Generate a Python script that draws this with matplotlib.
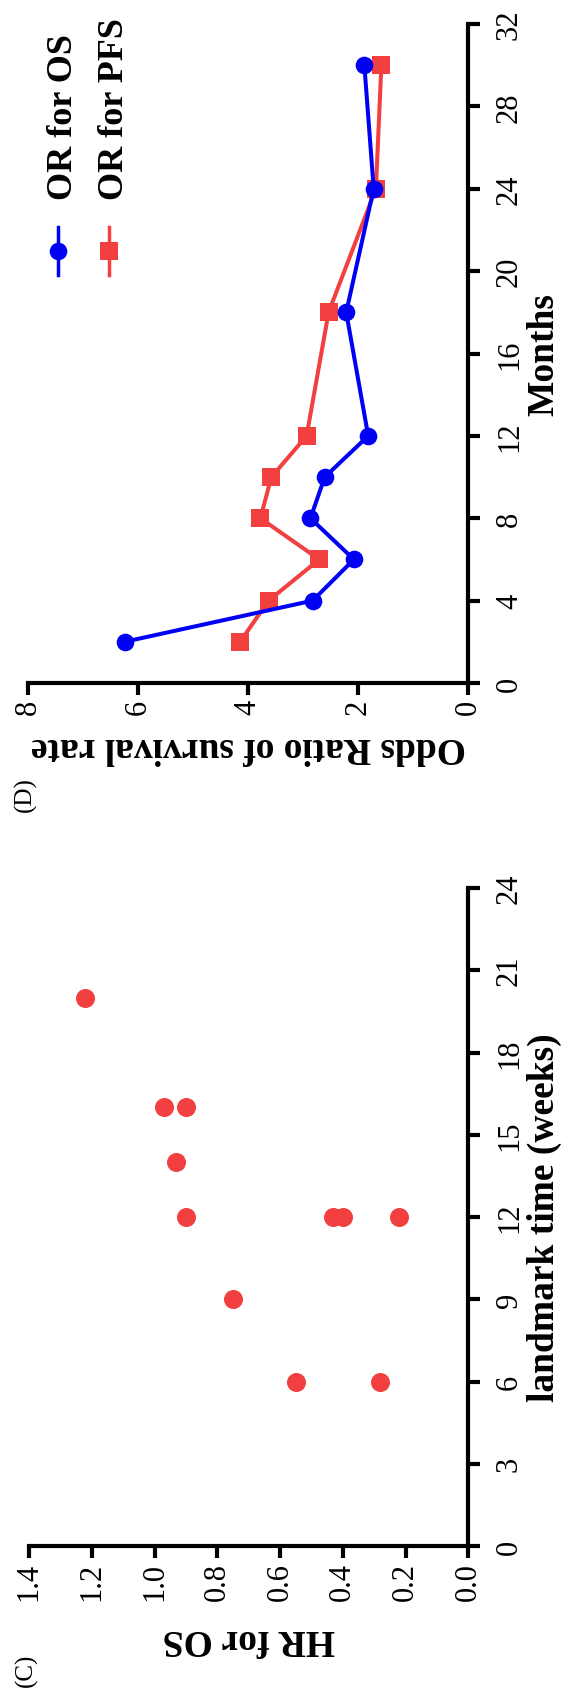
import matplotlib
matplotlib.use("Agg")
from matplotlib import pyplot as plt
from matplotlib.lines import Line2D

# panel (C): HR for OS against landmark time
weeks = [6, 6, 9, 12, 12, 12, 12, 14, 16, 16, 20]
hr_os = [0.55, 0.28, 0.75, 0.90, 0.43, 0.40, 0.22, 0.93, 0.97, 0.90, 1.22]
weeks_ticks = [0, 3, 6, 9, 12, 15, 18, 21, 24]
hr_ticks = [0.0, 0.2, 0.4, 0.6, 0.8, 1.0, 1.2, 1.4]

# panel (D): odds ratio against months
months = [2, 4, 6, 8, 10, 12, 18, 24, 30]
or_os = [6.25, 2.83, 2.08, 2.87, 2.61, 1.82, 2.22, 1.72, 1.89]
or_pfs = [4.15, 3.63, 2.71, 3.78, 3.58, 2.94, 2.54, 1.68, 1.58]
months_ticks = [0, 4, 8, 12, 16, 20, 24, 28, 32]
or_ticks = [0, 2, 4, 6, 8]
nazwy = ["OR for OS", "OR for PFS"]

NIEBIESKI = "#0000F5"
CZERWONY = "#F23F3F"

W, H = 569, 1690
def fx(px):
    return px / W
def fy(py):
    return 1 - py / H

plt.rcParams["font.family"] = "Liberation Serif"

fig = plt.figure(figsize=(W / 100, H / 100), dpi=100, facecolor="white")

def przygotuj_os(ax, xt, yt, pad_x_label, pad_y_label):
    """cala figura jest obrocona o 90 stopni w lewo"""
    for s in ["top", "left"]:
        ax.spines[s].set_visible(False)
    for s in ["bottom", "right"]:
        ax.spines[s].set_linewidth(3.0)
    ax.xaxis.set_ticks_position("bottom")
    ax.yaxis.tick_right()
    ax.yaxis.set_label_position("right")
    ax.tick_params(axis="both", direction="out", length=8.4, width=3.0,
                   labelsize=22)
    ax.tick_params(axis="x", pad=3.0)
    ax.tick_params(axis="y", pad=10.8)
    ax.set_xticks(xt)
    ax.set_xticklabels([f"{v:g}" if isinstance(v, int) else f"{v:.1f}" for v in xt],
                       rotation=90, ha="center", va="top")
    ax.set_yticks(yt)
    ax.set_yticklabels([str(v) for v in yt], rotation=90, ha="left", va="center")
    ax.xaxis.labelpad = pad_x_label
    ax.yaxis.labelpad = pad_y_label

# ---- panel (D) ----
axD = fig.add_axes([fx(28.3), fy(684), (468.3 - 28.3) / W, (684 - 25) / H])
axD.plot(or_pfs, months, "-s", color=CZERWONY, lw=2.9, ms=13, mew=0, clip_on=False)
axD.plot(or_os, months, "-o", color=NIEBIESKI, lw=2.9, ms=12.7, mew=0, clip_on=False)
axD.set_xlim(8, 0)
axD.set_ylim(0, 32)
przygotuj_os(axD, or_ticks, months_ticks, 11, 2)
axD.set_xlabel("Odds Ratio of survival rate", rotation=180, fontsize=27,
               fontweight="bold")
axD.set_ylabel("Months", rotation=90, fontsize=27, fontweight="bold")

# legenda (obrocona, wiec rysowana recznie)
for i, (kolor, znak, nazwa) in enumerate(zip([NIEBIESKI, CZERWONY], ["o", "s"], nazwy)):
    xc = 58 + 51 * i
    fig.add_artist(Line2D([fx(xc), fx(xc)], [fy(228), fy(276)], color=kolor,
                          lw=2.5, transform=fig.transFigure))
    fig.add_artist(Line2D([fx(xc)], [fy(252)], color=kolor, marker=znak,
                          ms=13 if znak == "s" else 12.7, mew=0,
                          transform=fig.transFigure))
    fig.text(fx(xc + 14), fy(200), nazwa, rotation=90, rotation_mode="anchor",
             ha="left", va="baseline", fontsize=26, fontweight="bold")

# ---- panel (C) ----
axC = fig.add_axes([fx(29), fy(1547), (468.3 - 29) / W, (1547 - 889) / H])
axC.plot(hr_os, weeks, "o", color=CZERWONY, ms=13.7, mew=0, clip_on=False)
axC.set_xlim(1.4, 0)
axC.set_ylim(0, 24)
przygotuj_os(axC, hr_ticks, weeks_ticks, 15.5, 2)
axC.set_xlabel("HR for OS", rotation=180, fontsize=27, fontweight="bold")
axC.set_ylabel("landmark time (weeks)", rotation=90, fontsize=27, fontweight="bold")

# etykiety paneli
fig.text(fx(26), fy(1670), "(C)", rotation=90, ha="center", va="center", fontsize=18)
fig.text(fx(25), fy(795), "(D)", rotation=90, ha="center", va="center", fontsize=18)

fig.savefig("out.png", dpi=100, facecolor="white")
